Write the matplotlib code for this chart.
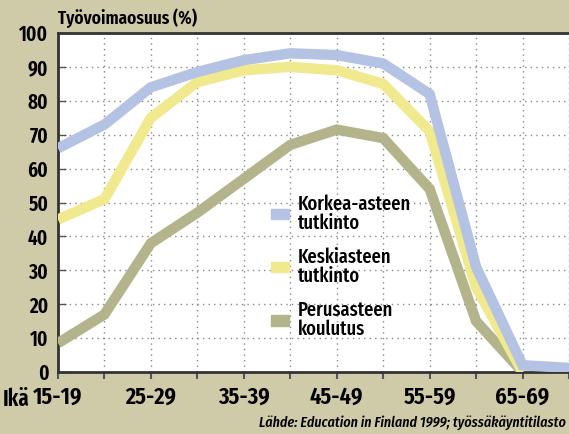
import matplotlib
matplotlib.use("Agg")
import matplotlib.pyplot as plt
from matplotlib.patches import Patch

ages = ["15-19", "20-24", "25-29", "30-34", "35-39", "40-44", "45-49",
        "50-54", "55-59", "60-64", "65-69", "70-74"]
korkea = [66, 73, 84, 88.5, 92, 94, 93.5, 91, 82, 31, 2, 1.2]
keski = [45, 51, 75, 85.5, 89, 90, 89, 85, 71, 25, 0]
perus = [8.5, 17, 38, 47, 57, 67, 71.5, 69, 54, 15, 0]
labels = ["Korkea-asteen\ntutkinto", "Keskiasteen\ntutkinto", "Perusasteen\nkoulutus"]
tick_labels = ["15-19", "", "25-29", "", "35-39", "", "45-49", "", "55-59", "", "65-69", ""]

bg = "#cfcaa8"
c_blue = "#b4c2e4"
c_yel = "#f0e98e"
c_olive = "#b4b48c"

plt.rcParams['font.family'] = ["Fira Sans Extra Condensed", "DejaVu Sans"]
W = "semibold"

fig = plt.figure(figsize=(5.69, 4.34), dpi=100, facecolor=bg)
ax = fig.add_axes([58/569, 62/434, 1 - 58/569, (372-33)/434])
ax.set_facecolor("white")

x = list(range(len(ages)))
lw = 7.5
ax.plot(x[:len(perus)], perus, color=c_olive, lw=lw, solid_joinstyle="miter", solid_capstyle="butt", zorder=3)
ax.plot(x[:len(keski)], keski, color=c_yel, lw=lw, solid_joinstyle="miter", solid_capstyle="butt", zorder=4)
ax.plot(x, korkea, color=c_blue, lw=lw, solid_joinstyle="miter", solid_capstyle="butt", zorder=5)

ax.set_xlim(0, 11)
ax.set_ylim(0, 100)
ax.set_yticks(range(0, 101, 10))
ax.set_xticks(x)
ax.set_xticklabels(tick_labels)
ax.grid(True, color="#888888", linestyle=(0, (1, 3)), linewidth=1.0)
ax.set_axisbelow(True)

for s in ["left", "bottom", "top"]:
    ax.spines[s].set_color("#333333")
    ax.spines[s].set_linewidth(2)
ax.spines["right"].set_visible(False)

ax.tick_params(axis="y", direction="in", length=6, width=1, color="#555555",
               labelsize=15, pad=7)
ax.tick_params(axis="x", direction="out", length=5, width=1.5, color="#555555",
               labelsize=17.5, pad=5)
for t in ax.get_xticklabels() + ax.get_yticklabels():
    t.set_fontweight(W)

fig.text(3/569, 1 - 406/434, "Ikä", fontsize=16.5, fontweight=W, ha="left", va="baseline")
fig.text(58/569, 1 - 18/434, "Työvoimaosuus (%)", fontsize=13.5, fontweight=W,
         ha="left", va="center")
fig.text(566/569, 1 - 423/434, "Lähde: Education in Finland 1999; työssäkäyntitilasto",
         fontsize=11, style="italic", fontweight="medium", ha="right", va="center")

handles = [Patch(color=c_blue), Patch(color=c_yel), Patch(color=c_olive)]
leg = ax.legend(handles, labels, loc="upper left", bbox_to_anchor=(205/511, (372-186)/339),
                frameon=False, fontsize=14.5, handlelength=0.9, handleheight=0.4,
                handletextpad=0.45, labelspacing=0.7, borderaxespad=0)
for t in leg.get_texts():
    t.set_fontweight("medium")
    t.set_linespacing(1.0)

fig.savefig("out.png", dpi=100, facecolor=bg)
